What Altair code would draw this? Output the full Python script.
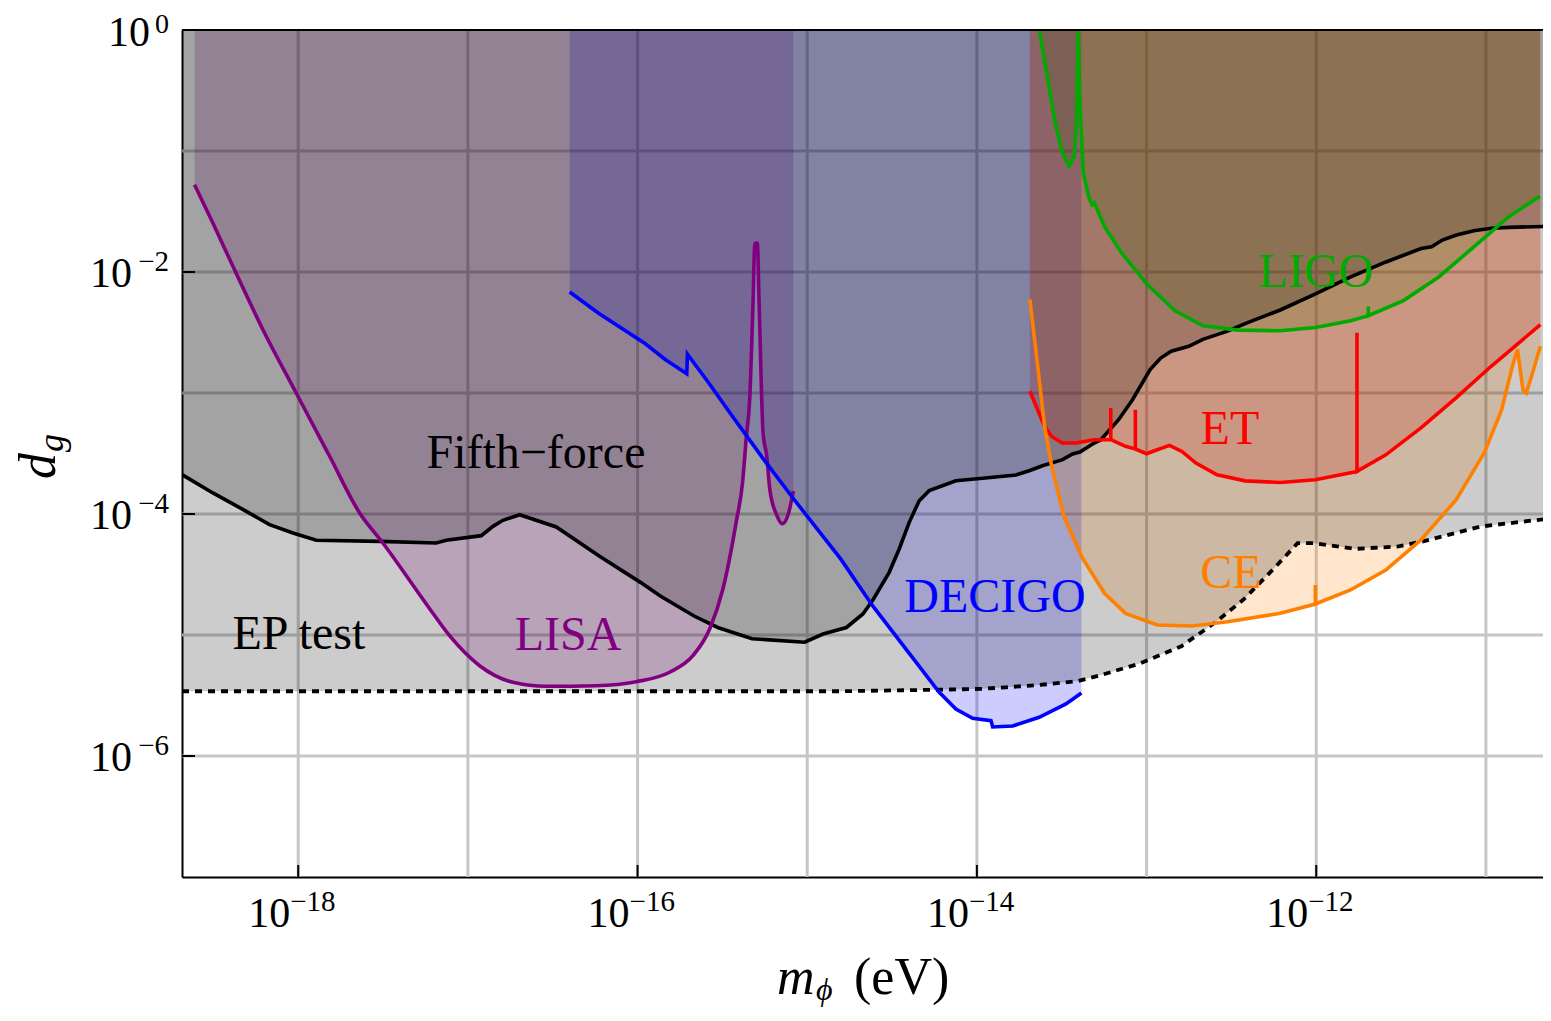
import altair as alt
import numpy as np
import pandas as pd

# ---------------- data (log10 values) ----------------
X_LO = -18.685
Y_LO, Y_HI = -7.0, 0.0

# EP test bound (dotted)
ep_logm = [-18.685, -14.811, -14.222, -13.969, -13.829, -13.629, -13.406, -13.281, -13.040, -12.795,
           -12.600, -12.429, -12.257, -12.110, -12.012, -11.768, -11.523, -11.377, -11.034, -10.614]
ep_logd = [-5.465, -5.465, -5.452, -5.445, -5.432, -5.413, -5.381, -5.336, -5.236, -5.093,
           -4.901, -4.708, -4.461, -4.241, -4.241, -4.288, -4.269, -4.228, -4.104, -4.036]

# Fifth-force bound (solid black)
ff_logm = [-18.685, -18.503, -18.306, -18.169, -18.031, -17.894, -17.520, -17.187, -17.128, -16.921,
           -16.852, -16.794, -16.695, -16.479, -16.224, -15.981, -15.866, -15.667, -15.524, -15.325,
           -15.015, -14.907, -14.769, -14.672, -14.613, -14.517, -14.458, -14.399, -14.340, -14.281,
           -14.124, -13.966, -13.770, -13.692, -13.613, -13.495, -13.436, -13.393, -13.318, -13.269,
           -13.165, -13.083, -12.979, -12.917, -12.855, -12.751, -12.668, -12.523, -12.419, -12.212,
           -12.004, -11.797, -11.589, -11.382, -11.320, -11.257, -11.174, -11.071, -10.967, -10.863,
           -10.614]
ff_logd = [-3.674, -3.826, -3.978, -4.088, -4.157, -4.217, -4.226, -4.240, -4.217, -4.179,
           -4.102, -4.052, -4.006, -4.107, -4.350, -4.567, -4.678, -4.843, -4.940, -5.031,
           -5.060, -4.992, -4.938, -4.826, -4.711, -4.482, -4.289, -4.069, -3.890, -3.807,
           -3.725, -3.705, -3.678, -3.642, -3.601, -3.551, -3.504, -3.488, -3.421, -3.386,
           -3.221, -3.055, -2.807, -2.711, -2.655, -2.614, -2.557, -2.489, -2.426, -2.314,
           -2.180, -2.041, -1.917, -1.806, -1.792, -1.736, -1.694, -1.659, -1.639, -1.631,
           -1.622]

# LISA
lisa_logm = [-18.611, -18.503, -18.385, -18.208, -18.012, -17.815, -17.638, -17.501, -17.237, -17.108,
             -16.931, -16.735, -16.538, -16.244, -16.008, -15.811, -15.674, -15.575, -15.497, -15.419,
             -15.381, -15.360, -15.339, -15.319, -15.309, -15.294, -15.284, -15.260, -15.239, -15.220,
             -15.180, -15.147, -15.111, -15.082]
lisa_logd = [-1.279, -1.595, -1.953, -2.477, -3.000, -3.523, -3.992, -4.240, -4.760, -5.006,
             -5.254, -5.391, -5.424, -5.419, -5.386, -5.308, -5.171, -4.950, -4.620, -4.069,
             -3.737, -3.380, -3.046, -2.234, -1.764, -1.760, -2.234, -3.336, -3.517, -3.802,
             -4.008, -4.080, -3.998, -3.810]

# DECIGO
dec_logm = [-16.400, -16.232, -15.954, -15.835, -15.710, -15.706, -15.577, -15.438, -15.260, -15.081,
            -14.943, -14.804, -14.615, -14.418, -14.222, -14.124, -14.025, -13.917, -13.907, -13.789,
            -13.633, -13.475, -13.384]
dec_logd = [-2.165, -2.339, -2.593, -2.725, -2.840, -2.680, -2.923, -3.198, -3.543, -3.874,
            -4.121, -4.369, -4.758, -5.116, -5.474, -5.612, -5.688, -5.708, -5.760, -5.752,
            -5.680, -5.570, -5.479]

# ET
et_logm = [-13.688, -13.601, -13.559, -13.497, -13.414, -13.310, -13.211, -13.211, -13.211, -13.124,
           -13.066, -13.066, -13.066, -13.000, -12.937, -12.865, -12.792, -12.709, -12.585, -12.419,
           -12.212, -12.005, -11.760, -11.760, -11.760, -11.590, -11.383, -11.176, -10.969, -10.679]
et_logd = [-2.986, -3.276, -3.359, -3.413, -3.413, -3.386, -3.386, -3.124, -3.386, -3.441,
           -3.463, -3.138, -3.463, -3.502, -3.469, -3.433, -3.483, -3.579, -3.676, -3.726,
           -3.740, -3.717, -3.648, -2.503, -3.648, -3.511, -3.289, -3.041, -2.779, -2.435]

# CE
ce_logm = [-13.688, -13.652, -13.601, -13.559, -13.487, -13.383, -13.248, -13.124, -12.937, -12.730,
           -12.523, -12.212, -12.005, -12.005, -12.005, -11.798, -11.590, -11.383, -11.176, -11.010,
           -10.907, -10.844, -10.814, -10.782, -10.762, -10.731, -10.679]
ce_logd = [-2.227, -2.653, -3.276, -3.607, -4.021, -4.352, -4.655, -4.821, -4.917, -4.926,
           -4.890, -4.821, -4.744, -4.587, -4.744, -4.628, -4.463, -4.214, -3.883, -3.496,
           -3.138, -2.779, -2.641, -2.973, -3.000, -2.862, -2.614]

# LIGO
ligo_logm = [-13.632, -13.580, -13.539, -13.498, -13.456, -13.425, -13.411, -13.403, -13.394, -13.373,
             -13.342, -13.321, -13.307, -13.248, -13.145, -13.000, -12.834, -12.668, -12.460, -12.212,
             -12.004, -11.797, -11.693, -11.693, -11.693, -11.486, -11.278, -11.071, -10.863, -10.683]
ligo_logd = [0.0, -0.430, -0.764, -1.014, -1.125, -1.041, -0.708, 0.0, -0.569, -1.180,
             -1.375, -1.445, -1.430, -1.625, -1.847, -2.098, -2.319, -2.445, -2.480, -2.486,
             -2.459, -2.402, -2.361, -2.286, -2.361, -2.236, -2.041, -1.792, -1.541, -1.375]

# region labels
label_text = ["Fifth\u2212force", "EP test", "LISA", "DECIGO", "LIGO", "ET", "CE"]
label_logm = [-16.599, -17.996, -16.410, -13.894, -12.002, -12.509, -12.503]
label_logd = [-3.620, -5.116, -5.124, -4.810, -2.124, -3.421, -4.612]
label_color = ["#000000", "#000000", "#800080", "#0000ff", "#00aa00", "#ff0000", "#ff8000"]

# ticks / grid
x_tick_exp = [-18, -16, -14, -12]
y_tick_exp = [0, -2, -4, -6]
x_grid_exp = [-18, -17, -16, -15, -14, -13, -12, -11]
y_grid_exp = [-1, -2, -3, -4, -5, -6]

# ---------------- chart ----------------
W, H = 1361, 847
PX_PER_DECADE = 169.67
X_HI = X_LO + W / PX_PER_DECADE
FONT = "Liberation Serif"
GRID = "#c6c6c6"
FILL_OP = 0.2
LW = 3.6

xs = alt.Scale(type="log", domain=[10 ** X_LO, 10 ** X_HI], nice=False)
ys = alt.Scale(type="log", domain=[10 ** Y_LO, 10 ** Y_HI], nice=False)
xaxis = alt.Axis(domain=True, domainColor="black", domainWidth=2, labels=False, ticks=False,
                 grid=False, title=None)
yaxis = alt.Axis(domain=True, domainColor="black", domainWidth=2, labels=False, ticks=False,
                 grid=False, title=None)


def X():
    return alt.X("m:Q", scale=xs, axis=xaxis)


def Y():
    return alt.Y("d:Q", scale=ys, axis=yaxis)


def curve(logm, logd):
    df = pd.DataFrame({"m": np.power(10.0, logm), "d": np.power(10.0, logd)})
    df["i"] = np.arange(len(df))
    df["top"] = 1.0
    return df


series = {
    "ep": curve(ep_logm, ep_logd),
    "ff": curve(ff_logm, ff_logd),
    "lisa": curve(lisa_logm, lisa_logd),
    "dec": curve(dec_logm, dec_logd),
    "et": curve(et_logm, et_logd),
    "ce": curve(ce_logm, ce_logd),
    "ligo": curve(ligo_logm, ligo_logd),
}
colors = {"ep": "#000000", "ff": "#000000", "lisa": "#800080", "dec": "#0000ff",
          "et": "#ff0000", "ce": "#ff8000", "ligo": "#00aa00"}
# smooth curve only for LISA (no vertical spikes/kinks in its data)
interp = {"ep": "linear", "ff": "linear", "lisa": "monotone", "dec": "linear",
          "et": "linear", "ce": "linear", "ligo": "linear"}

layers = []

# grid
gx = pd.DataFrame({"m": np.power(10.0, x_grid_exp)})
gy = pd.DataFrame({"d": np.power(10.0, y_grid_exp)})
layers.append(alt.Chart(gx).mark_rule(color=GRID, strokeWidth=3).encode(x=X()))
layers.append(alt.Chart(gy).mark_rule(color=GRID, strokeWidth=3).encode(y=Y()))

# fills (curve up to the top of the plot); detector regions first, then the gray bounds
for key in ["lisa", "dec", "ligo", "et", "ce", "ep", "ff"]:
    layers.append(
        alt.Chart(series[key]).mark_area(fill=colors[key], fillOpacity=FILL_OP, clip=True,
                                         orient="vertical", interpolate=interp[key]).encode(
            x=X(), y=Y(), y2=alt.Y2("top"))
    )

# lines
layers.append(alt.Chart(series["ff"]).mark_line(color="black", strokeWidth=LW, clip=True).encode(
    x=X(), y=Y(), order=alt.Order("i:Q")))
layers.append(alt.Chart(series["ep"]).mark_line(color="black", strokeWidth=3.8, strokeDash=[7, 6],
                                                clip=True).encode(x=X(), y=Y(), order=alt.Order("i:Q")))
for key in ["lisa", "dec", "et", "ce", "ligo"]:
    layers.append(alt.Chart(series[key]).mark_line(color=colors[key], strokeWidth=LW, clip=True,
                                                   interpolate=interp[key]).encode(
        x=X(), y=Y(), order=alt.Order("i:Q")))

# region labels
lab = pd.DataFrame({"m": np.power(10.0, label_logm), "d": np.power(10.0, label_logd),
                    "label": label_text, "color": label_color})
layers.append(alt.Chart(lab).mark_text(font=FONT, fontSize=48, align="center",
                                       baseline="alphabetic").encode(
    x=X(), y=Y(), text="label:N", color=alt.Color("color:N", scale=None)))

# inward ticks
tx = pd.DataFrame({"m": np.power(10.0, x_tick_exp),
                   "base": ["10"] * len(x_tick_exp),
                   "exp": ["\u2212" + str(-e) if e < 0 else str(e) for e in x_tick_exp]})
ty = pd.DataFrame({"d": np.power(10.0, y_tick_exp),
                   "base": ["10"] * len(y_tick_exp),
                   "exp": ["\u2212" + str(-e) if e < 0 else str(e) for e in y_tick_exp],
                   "neg": [e < 0 for e in y_tick_exp]})
layers.append(alt.Chart(tx).mark_rule(color="black", strokeWidth=2).encode(
    x=X(), y=alt.value(H), y2=alt.value(H - 12)))
layers.append(alt.Chart(ty).mark_rule(color="black", strokeWidth=2).encode(
    y=Y(), x=alt.value(0), x2=alt.value(13)))

# tick labels: x
layers.append(alt.Chart(tx).mark_text(font=FONT, fontSize=42, align="right", baseline="alphabetic",
                                      dx=-8).encode(x=X(), y=alt.value(H + 50), text="base:N"))
layers.append(alt.Chart(tx).mark_text(font=FONT, fontSize=29, align="left", baseline="alphabetic",
                                      dx=-8).encode(x=X(), y=alt.value(H + 34), text="exp:N"))
# tick labels: y
layers.append(alt.Chart(ty).transform_filter("datum.neg").mark_text(
    font=FONT, fontSize=42, align="right", baseline="alphabetic", dy=15).encode(
    y=Y(), x=alt.value(-50), text="base:N"))
layers.append(alt.Chart(ty).transform_filter("datum.neg").mark_text(
    font=FONT, fontSize=29, align="right", baseline="alphabetic", dy=-1).encode(
    y=Y(), x=alt.value(-13), text="exp:N"))
layers.append(alt.Chart(ty).transform_filter("!datum.neg").mark_text(
    font=FONT, fontSize=42, align="right", baseline="alphabetic", dy=16).encode(
    y=Y(), x=alt.value(-32), text="base:N"))
layers.append(alt.Chart(ty).transform_filter("!datum.neg").mark_text(
    font=FONT, fontSize=28, align="right", baseline="alphabetic", dy=3).encode(
    y=Y(), x=alt.value(-13), text="exp:N"))

# top frame line
layers.append(alt.Chart(pd.DataFrame({"d": [10 ** Y_HI]})).mark_rule(color="black", strokeWidth=2).encode(
    y=Y()))

# axis titles
dummy = pd.DataFrame({"a": [0]})
layers.append(alt.Chart(dummy).mark_text(font=FONT, fontSize=52, fontStyle="italic", align="left",
                                         baseline="alphabetic").encode(
    x=alt.value(595), y=alt.value(H + 117), text=alt.value("m")))
layers.append(alt.Chart(dummy).mark_text(font=FONT, fontSize=32, fontStyle="italic", align="left",
                                         baseline="alphabetic").encode(
    x=alt.value(634), y=alt.value(H + 123), text=alt.value("\u03d5")))
layers.append(alt.Chart(dummy).mark_text(font=FONT, fontSize=52, align="left",
                                         baseline="alphabetic").encode(
    x=alt.value(672), y=alt.value(H + 117), text=alt.value("(eV)")))
layers.append(alt.Chart(dummy).mark_text(font=FONT, fontSize=52, fontStyle="italic", align="left",
                                         baseline="alphabetic", angle=270).encode(
    x=alt.value(-127), y=alt.value(449), text=alt.value("d")))
layers.append(alt.Chart(dummy).mark_text(font=FONT, fontSize=36, fontStyle="italic", align="left",
                                         baseline="alphabetic", angle=270).encode(
    x=alt.value(-119), y=alt.value(422), text=alt.value("g")))

chart = alt.layer(*layers).properties(
    width=W, height=H,
    autosize=alt.AutoSizeParams(type="none"),
    padding={"left": 174, "top": 22, "right": 0, "bottom": 130},
    background="white",
).configure_view(stroke=None)

chart.save("out.html", embed_options={"renderer": "svg", "actions": False})
